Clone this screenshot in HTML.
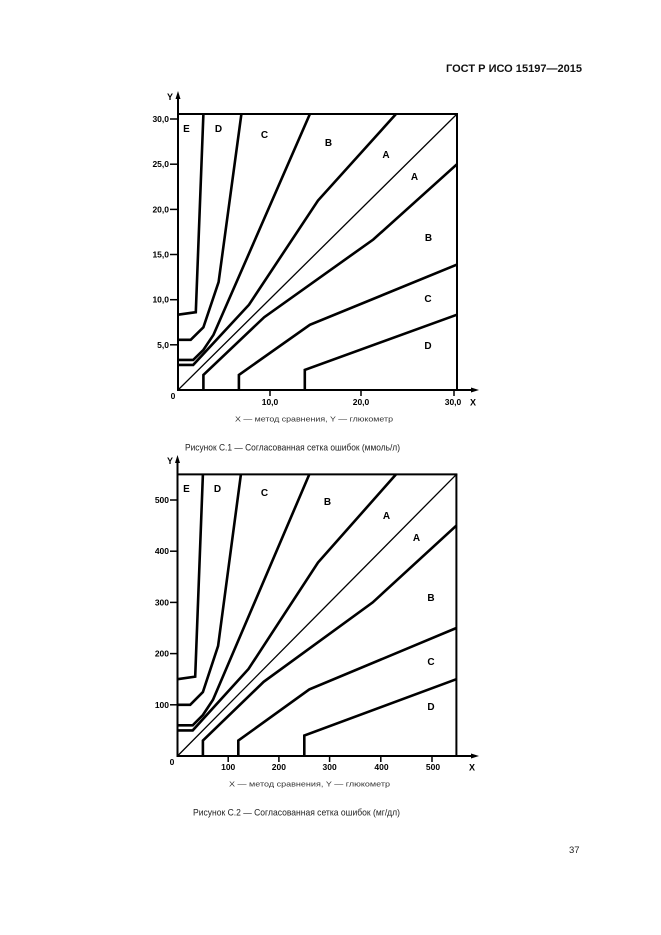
<!DOCTYPE html>
<html><head><meta charset="utf-8"><style>
html,body{margin:0;padding:0;background:#fff;}
svg{display:block;}
text{font-family:"Liberation Sans","DejaVu Sans",sans-serif;}
</style></head><body>
<svg width="661" height="935" viewBox="0 0 661 935" xmlns="http://www.w3.org/2000/svg">
<rect width="661" height="935" fill="#fff"/>
<text x="446" y="72" font-size="11" font-weight="bold" fill="#111" textLength="136" lengthAdjust="spacingAndGlyphs">ГОСТ Р ИСО 15197—2015</text>

<!-- ===== TOP CHART ===== -->
<g fill="none" stroke="#000" stroke-linejoin="miter">
  <line x1="178" y1="391" x2="178" y2="97" stroke-width="2"/>
  <line x1="177" y1="390" x2="474" y2="390" stroke-width="2"/>
  <line x1="178" y1="114" x2="458" y2="114" stroke-width="2"/>
  <line x1="457" y1="114" x2="457" y2="390" stroke-width="2"/>
  <g stroke-width="1.5">
    <line x1="170" y1="119" x2="178" y2="119"/>
    <line x1="170" y1="164.2" x2="178" y2="164.2"/>
    <line x1="170" y1="209.4" x2="178" y2="209.4"/>
    <line x1="170" y1="254.5" x2="178" y2="254.5"/>
    <line x1="170" y1="299.7" x2="178" y2="299.7"/>
    <line x1="170" y1="344.8" x2="178" y2="344.8"/>
    <line x1="270" y1="390" x2="270" y2="396"/>
    <line x1="361" y1="390" x2="361" y2="396"/>
    <line x1="454" y1="390" x2="454" y2="396"/>
  </g>
  <line x1="178" y1="390" x2="457" y2="114" stroke-width="1.3"/>
  <g stroke-width="2.6">
    <polyline points="178,364.9 193.2,364.9 249,304.7 318,200.5 396,114"/>
    <polyline points="203.4,390 203.4,374.9 264.2,317.2 373.3,239.5 457,164.2"/>
    <polyline points="178,359.9 193.2,359.9 203.4,349.9 213.5,334.8 309.9,114"/>
    <polyline points="238.9,390 238.9,374.9 309.9,324.8 457,264.6"/>
    <polyline points="178,339.8 190.7,339.8 203.4,327.3 218.6,282.1 241.4,114"/>
    <polyline points="304.8,390 304.8,369.9 457,314.7"/>
    <polyline points="178,314.7 195.8,312.2 203.4,114"/>
  </g>
</g>
<polygon points="178,91 175.5,99 180.5,99" fill="#000"/>
<polygon points="479,390 471,387.5 471,392.5" fill="#000"/>
<g font-size="8.5" font-weight="bold" fill="#000">
  <text x="173" y="100" text-anchor="end" font-size="9">Y</text>
  <text x="169" y="122" text-anchor="end">30,0</text>
  <text x="169" y="167.2" text-anchor="end">25,0</text>
  <text x="169" y="212.4" text-anchor="end">20,0</text>
  <text x="169" y="257.5" text-anchor="end">15,0</text>
  <text x="169" y="302.7" text-anchor="end">10,0</text>
  <text x="169" y="347.8" text-anchor="end">5,0</text>
  <text x="173" y="399" text-anchor="middle">0</text>
  <text x="270" y="405" text-anchor="middle">10,0</text>
  <text x="361" y="405" text-anchor="middle">20,0</text>
  <text x="453" y="405" text-anchor="middle">30,0</text>
  <text x="473" y="405.5" text-anchor="middle" font-size="9">X</text>
</g>
<g font-size="10" font-weight="bold" fill="#000" text-anchor="middle">
  <text x="186.5" y="132">E</text>
  <text x="218.5" y="132">D</text>
  <text x="264.5" y="138">C</text>
  <text x="328.5" y="146">B</text>
  <text x="386" y="158">A</text>
  <text x="414.5" y="180">A</text>
  <text x="428.5" y="241">B</text>
  <text x="428" y="302">C</text>
  <text x="428" y="349">D</text>
</g>
<text x="235" y="421.5" font-size="7.5" fill="#333" textLength="158" lengthAdjust="spacingAndGlyphs">X — метод сравнения, Y — глюкометр</text>
<text x="185" y="450.5" font-size="9.5" fill="#222" textLength="215" lengthAdjust="spacingAndGlyphs">Рисунок С.1 — Согласованная сетка ошибок (ммоль/л)</text>

<!-- ===== BOTTOM CHART ===== -->
<g fill="none" stroke="#000">
  <line x1="177.5" y1="757" x2="177.5" y2="460" stroke-width="2"/>
  <line x1="176.5" y1="756" x2="474" y2="756" stroke-width="2"/>
  <line x1="177.5" y1="474.4" x2="457.4" y2="474.4" stroke-width="2"/>
  <line x1="456.4" y1="474.4" x2="456.4" y2="756" stroke-width="2"/>
  <g stroke-width="1.5">
    <line x1="170" y1="704.8" x2="177.5" y2="704.8"/>
    <line x1="170" y1="653.6" x2="177.5" y2="653.6"/>
    <line x1="170" y1="602.4" x2="177.5" y2="602.4"/>
    <line x1="170" y1="551.2" x2="177.5" y2="551.2"/>
    <line x1="170" y1="500" x2="177.5" y2="500"/>
    <line x1="228.2" y1="756" x2="228.2" y2="762"/>
    <line x1="278.9" y1="756" x2="278.9" y2="762"/>
    <line x1="329.6" y1="756" x2="329.6" y2="762"/>
    <line x1="380.8" y1="756" x2="380.8" y2="762"/>
    <line x1="432" y1="756" x2="432" y2="762"/>
  </g>
  <line x1="177.5" y1="756" x2="456.4" y2="474.4" stroke-width="1.3"/>
  <g stroke-width="2.6">
    <polyline points="177.5,730.4 192.7,730.4 248.5,669 318,562.5 396,474.4"/>
    <polyline points="202.9,756 202.9,740.6 263.7,681.8 372.7,602.4 456.4,525.6"/>
    <polyline points="177.5,725.3 192.7,725.3 202.9,715 213,699.7 309.3,474.4"/>
    <polyline points="238.3,756 238.3,740.6 309.3,689.4 456.4,628"/>
    <polyline points="177.5,704.8 190.2,704.8 202.9,692 218.1,645.9 240.9,474.4"/>
    <polyline points="304.3,756 304.3,735.5 456.4,679.2"/>
    <polyline points="177.5,679.2 195.2,676.6 202.9,474.4"/>
  </g>
</g>
<polygon points="177.5,455 175,463 180,463" fill="#000"/>
<polygon points="479,756 471,753.5 471,758.5" fill="#000"/>
<g font-size="8.5" font-weight="bold" fill="#000">
  <text x="173" y="464" text-anchor="end" font-size="9">Y</text>
  <text x="169" y="503" text-anchor="end">500</text>
  <text x="169" y="554.2" text-anchor="end">400</text>
  <text x="169" y="605.4" text-anchor="end">300</text>
  <text x="169" y="656.6" text-anchor="end">200</text>
  <text x="169" y="707.8" text-anchor="end">100</text>
  <text x="172" y="765" text-anchor="middle">0</text>
  <text x="228.2" y="770" text-anchor="middle">100</text>
  <text x="278.9" y="770" text-anchor="middle">200</text>
  <text x="329.6" y="770" text-anchor="middle">300</text>
  <text x="381.5" y="770" text-anchor="middle">400</text>
  <text x="433" y="770" text-anchor="middle">500</text>
  <text x="472" y="770.5" text-anchor="middle" font-size="9">X</text>
</g>
<g font-size="10" font-weight="bold" fill="#000" text-anchor="middle">
  <text x="186.5" y="492">E</text>
  <text x="217.5" y="492">D</text>
  <text x="264.5" y="496">C</text>
  <text x="327.5" y="505">B</text>
  <text x="386.5" y="519">A</text>
  <text x="416.5" y="541">A</text>
  <text x="431" y="601">B</text>
  <text x="431" y="665">C</text>
  <text x="431" y="710">D</text>
</g>
<text x="229" y="786.5" font-size="7.5" fill="#333" textLength="161" lengthAdjust="spacingAndGlyphs">X — метод сравнения, Y — глюкометр</text>
<text x="193" y="815.5" font-size="9.5" fill="#222" textLength="207" lengthAdjust="spacingAndGlyphs">Рисунок С.2 — Согласованная сетка ошибок (мг/дл)</text>

<text x="569" y="853" font-size="9.5" fill="#222">37</text>
</svg>
</body></html>
